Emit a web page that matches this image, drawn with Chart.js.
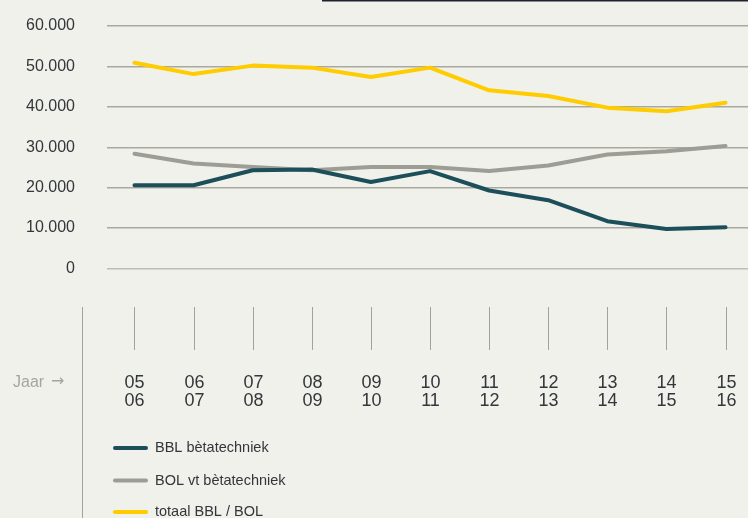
<!DOCTYPE html>
<html>
<head>
<meta charset="utf-8">
<script src="https://cdn.jsdelivr.net/npm/chart.js@4"></script>
<style>
  html, body { margin: 0; padding: 0; background: #f0f1ea; }
  #wrap { position: relative; width: 748px; height: 518px; }
  canvas { display: block; }
</style>
</head>
<body>
<div id="wrap"><canvas id="c" width="748" height="518"></canvas></div>
<script>
// ---- data ----
const yearTop    = ['05','06','07','08','09','10','11','12','13','14','15'];
const yearBottom = ['06','07','08','09','10','11','12','13','14','15','16'];
const bblBeta    = [20600, 20600, 24300, 24500, 21400, 24100, 19300, 16900, 11700, 9800, 10200];
const bolBeta    = [28400, 26000, 25100, 24300, 25100, 25100, 24100, 25500, 28200, 29000, 30300];
const totaal     = [50900, 48100, 50200, 49700, 47400, 49700, 44100, 42700, 39800, 38900, 41000];
const seriesNames = ['BBL bètatechniek', 'BOL vt bètatechniek', 'totaal BBL / BOL'];
const yTicks = [0, 10000, 20000, 30000, 40000, 50000, 60000];
const axisWord = 'Jaar';
const axisArrow = '\u2192';

const FONT = '"Liberation Sans", Arial, sans-serif';
const toPts = arr => arr.map((v, i) => ({ x: i, y: v }));
const fmt = v => String(v).replace(/\B(?=(\d{3})+(?!\d))/g, '.');

const lowerPlugin = {
  id: 'lower',
  afterDraw(chart) {
    const ctx = chart.ctx;
    const xs = chart.scales.x;
    ctx.save();
    // top rule
    ctx.fillStyle = '#1e2330';
    ctx.fillRect(322, 0, 426, 1.5);
    // left vertical rule
    ctx.strokeStyle = '#a3a39c';
    ctx.lineWidth = 1;
    ctx.beginPath();
    ctx.moveTo(82.5, 307);
    ctx.lineTo(82.5, 518);
    ctx.stroke();
    // ticks + labels
    ctx.fillStyle = '#33363a';
    ctx.font = '18px ' + FONT;
    ctx.textAlign = 'center';
    ctx.textBaseline = 'middle';
    yearTop.forEach((t, i) => {
      const x = Math.round(xs.getPixelForValue(i)) + 0.5;
      ctx.strokeStyle = '#a3a39c';
      ctx.beginPath();
      ctx.moveTo(x, 307);
      ctx.lineTo(x, 350);
      ctx.stroke();
      ctx.fillText(t, x, 383);
      ctx.fillText(yearBottom[i], x, 401);
    });
    // axis word
    ctx.fillStyle = '#a6a6a0';
    ctx.font = '16px ' + FONT;
    ctx.textAlign = 'left';
    ctx.fillText(axisWord, 13, 383);
    ctx.font = '16px "DejaVu Sans", sans-serif';
    ctx.fillText(axisArrow, 51, 382);
    // legend
    const rows = [448, 480.5, 512];
    chart.data.datasets.forEach((ds, i) => {
      const y = rows[i];
      ctx.strokeStyle = ds.borderColor;
      ctx.lineWidth = 4;
      ctx.lineCap = 'round';
      ctx.beginPath();
      ctx.moveTo(115, y);
      ctx.lineTo(146, y);
      ctx.stroke();
      ctx.fillStyle = '#33363a';
      ctx.font = '14.5px ' + FONT;
      ctx.textAlign = 'left';
      ctx.textBaseline = 'middle';
      ctx.fillText(ds.label, 155, y);
    });
    ctx.restore();
  }
};

new Chart(document.getElementById('c'), {
  type: 'line',
  data: {
    datasets: [
      { label: seriesNames[0], data: toPts(bblBeta), borderColor: '#1d4f5b', borderWidth: 4 },
      { label: seriesNames[1], data: toPts(bolBeta), borderColor: '#9d9d95', borderWidth: 4 },
      { label: seriesNames[2], data: toPts(totaal),  borderColor: '#ffcc00', borderWidth: 4 }
    ]
  },
  options: {
    responsive: false,
    animation: false,
    events: [],
    layout: { padding: { top: 26, bottom: 249.5, left: 0, right: 0 } },
    elements: {
      point: { radius: 0 },
      line: { tension: 0, borderJoinStyle: 'round', borderCapStyle: 'round', fill: false }
    },
    plugins: { legend: { display: false }, tooltip: { enabled: false } },
    scales: {
      x: {
        type: 'linear',
        min: -0.465,
        max: 10.38,
        display: false
      },
      y: {
        min: 0,
        max: 60000,
        afterFit(scale) { scale.width = 107; scale.paddingTop = 0; scale.paddingBottom = 0; },
        afterBuildTicks(scale) { scale.ticks = yTicks.map(v => ({ value: v })); },
        border: { display: false },
        grid: {
          drawTicks: false,
          color: ctx => ctx.tick && ctx.tick.value === 0 ? '#bdbdb5' : '#a9a9a2',
          lineWidth: 1.5
        },
        ticks: {
          padding: 32,
          color: '#33363a',
          font: { family: FONT, size: 16 },
          callback: v => fmt(v)
        }
      }
    }
  },
  plugins: [lowerPlugin]
});
</script>
</body>
</html>
